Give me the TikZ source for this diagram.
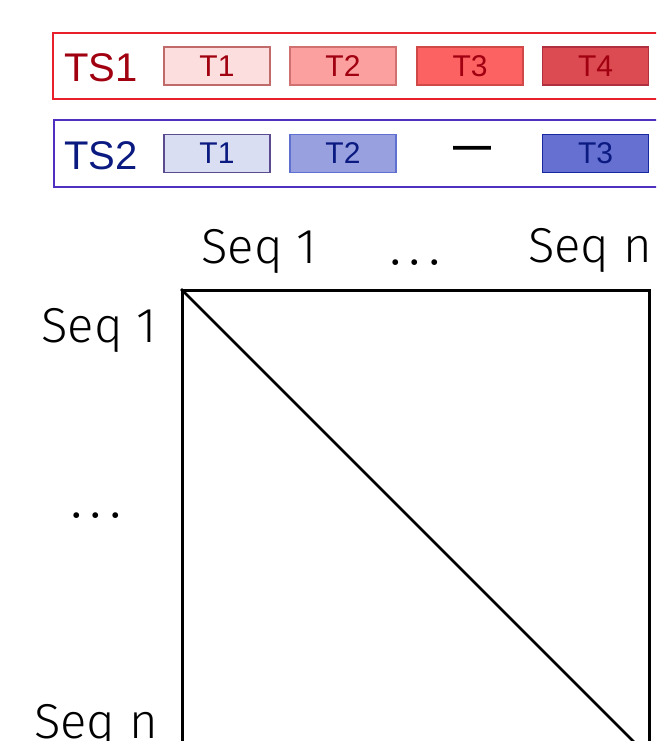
\documentclass[tikz,border=0pt]{standalone}
\usepackage{fontspec}
\newfontfamily\arialfont{Liberation Sans}
\newfontfamily\seqfont{Fira Sans Light}
\definecolor{tsred}{HTML}{E8202A}
\definecolor{tsredtext}{HTML}{A00010}
\definecolor{tsblue}{HTML}{5030C0}
\definecolor{tsbluetext}{HTML}{0A1A80}
\definecolor{rfillA}{HTML}{FDDEDE}\definecolor{rdrawA}{HTML}{C06A6A}
\definecolor{rfillB}{HTML}{FC9F9F}\definecolor{rdrawB}{HTML}{D07070}
\definecolor{rfillC}{HTML}{FD6262}\definecolor{rdrawC}{HTML}{D04848}
\definecolor{rfillD}{HTML}{DC4A52}\definecolor{rdrawD}{HTML}{B03040}
\definecolor{bfillA}{HTML}{DADEF3}\definecolor{bdrawA}{HTML}{5A4A90}
\definecolor{bfillB}{HTML}{99A0E0}\definecolor{bdrawB}{HTML}{6070D0}
\definecolor{bfillC}{HTML}{6570D0}\definecolor{bdrawC}{HTML}{1828A0}
\newcommand{\spreaddots}{.\kern0.17em.\kern0.17em.}
\tikzset{
  seriesbox/.style={draw, line width=2pt},
  tsname/.style={anchor=base, inner sep=0pt, font=\arialfont\fontsize{40}{40}\selectfont},
  slot/.style={draw, line width=1.2pt, minimum width=106pt, minimum height=38pt,
    inner sep=0pt, font=\arialfont\fontsize{30}{30}\selectfont},
  redslot/.style={slot, text=tsredtext},
  blueslot/.style={slot, text=tsbluetext},
  seqlabel/.style={anchor=base, inner sep=0pt, font=\seqfont\fontsize{49}{49}\selectfont},
  dots/.style={anchor=base, inner sep=0pt, font=\bfseries\fontsize{40}{40}\selectfont},
}
\begin{document}
\begin{tikzpicture}[x=1pt,y=-1pt]
\useasboundingbox (0,0) rectangle (656,741);
\clip (0,0) rectangle (656,741);

% time series 1
\draw[seriesbox, tsred] (53,33) rectangle (720,99);
\node[tsname, text=tsredtext] (ts1) at (101,82) {TS1};
\node[redslot, fill=rfillA, draw=rdrawA] (a1) at (217,66) {T1};
\node[redslot, fill=rfillB, draw=rdrawB] (a2) at (343,66) {T2};
\node[redslot, fill=rfillC, draw=rdrawC] (a3) at (470,66) {T3};
\node[redslot, fill=rfillD, draw=rdrawD] (a4) at (595.5,66) {T4};

% time series 2
\draw[seriesbox, tsblue] (54,120) rectangle (720,187);
\node[tsname, text=tsbluetext] (ts2) at (101,169) {TS2};
\node[blueslot, fill=bfillA, draw=bdrawA] (b1) at (217,153.5) {T1};
\node[blueslot, fill=bfillB, draw=bdrawB] (b2) at (343,153.5) {T2};
\node[inner sep=0pt, font=\arialfont\bfseries\fontsize{38}{38}\selectfont] (gap) at (472,152) {—};
\node[blueslot, fill=bfillC, draw=bdrawC] (b3) at (595.5,153.5) {T3};

% pairwise matrix
\node[draw, line width=2.5pt, minimum width=467pt, minimum height=467pt,
  inner sep=0pt, anchor=north west] (mat) at (181,289) {};
\draw[line width=2.5pt] (mat.north west) -- (mat.south east);

% column labels
\node[seqlabel] (c1) at (259,263) {Seq 1};
\node[dots] (cdots) at (415,265) {\spreaddots};
\node[seqlabel] (cn) at (590,262) {Seq n};

% row labels
\node[seqlabel] (r1) at (99,342) {Seq 1};
\node[dots] (rdots) at (96,518) {\spreaddots};
\node[seqlabel] (rn) at (96,738) {Seq n};
\end{tikzpicture}
\end{document}
